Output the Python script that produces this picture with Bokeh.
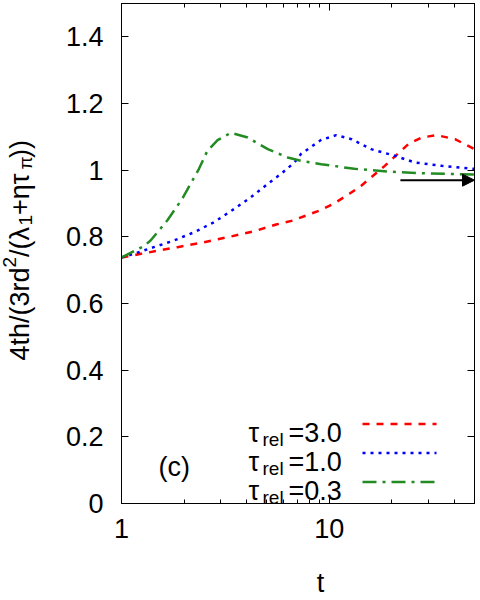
from bokeh.plotting import figure
from bokeh.layouts import row, column
from bokeh.models import (FixedTicker, CustomJSTickFormatter, LogAxis, LinearAxis,
                          Label, Arrow, NormalHead, Range1d)
from bokeh.core.properties import value
from bokeh.embed import file_html
from bokeh.resources import INLINE

# ---- data: ratio of 4th to 3rd-order cumulant combination vs time ----
t_tau30 = [1.0, 1.24, 1.86, 2.50, 3.36, 4.36, 5.55, 6.68, 7.74, 9.15, 10.6, 12.5, 14.3,
           16.3, 18.5, 21.1, 24.0, 27.8, 32.9, 40.3, 50.0]
r_tau30 = [0.738, 0.749, 0.769, 0.784, 0.801, 0.817, 0.837, 0.849, 0.864, 0.881, 0.901,
           0.929, 0.954, 0.984, 1.013, 1.046, 1.078, 1.098, 1.105, 1.093, 1.063]

t_tau10 = [1.0, 1.147, 1.43, 1.79, 2.24, 2.79, 3.49, 4.20, 5.06, 5.86, 6.80, 7.32, 9.15,
           10.8, 12.8, 15.9, 20.7, 25.8, 34.8, 50.0]
r_tau10 = [0.738, 0.749, 0.769, 0.789, 0.814, 0.844, 0.884, 0.919, 0.959, 0.989, 1.023,
           1.049, 1.091, 1.105, 1.093, 1.063, 1.043, 1.023, 1.013, 1.004]

t_tau03 = [1.0, 1.28, 1.38, 1.66, 1.96, 2.36, 2.59, 2.90, 3.36, 4.05, 5.06, 6.31, 7.32,
           9.15, 13.2, 19.2, 30.0, 50.0]
r_tau03 = [0.738, 0.772, 0.789, 0.849, 0.914, 1.004, 1.058, 1.090, 1.112, 1.098, 1.063,
           1.038, 1.028, 1.018, 1.004, 0.996, 0.990, 0.987]

# asymptotic value marked by the arrow
arrow_t = [22.0, 50.0]
arrow_r = 0.97

legend_values = ["3.0", "1.0", "0.3"]
x_major = [1, 10]
x_minor = [2, 3, 4, 5, 6, 7, 8, 9, 20, 30, 40, 50]
y_major = [0, 0.2, 0.4, 0.6, 0.8, 1.0, 1.2, 1.4]

FONT = "Liberation Sans"
FS = 27          # main text size in px
FS_SUB = 19      # sub/superscript size in px

W_TOTAL, H_TOTAL = 480, 600
LW = 60          # width of the strip holding the rotated y label
BH = 40          # height of the strip holding the x label
FL, FB = 121, 503.5   # frame left / bottom in page pixels

# ---------------- main plot ----------------
p = figure(width=W_TOTAL - LW, height=H_TOTAL - BH, x_axis_type="log",
           x_range=(1, 50), y_range=(0, 1.5),
           output_backend="svg", toolbar_location=None, frame_align=False,
           min_border_left=FL - LW, min_border_right=6, min_border_top=3,
           min_border_bottom=int(H_TOTAL - BH - FB + 0.5))
p.grid.visible = False
p.outline_line_color = "black"
p.outline_line_width = 1
p.background_fill_color = "white"
p.border_fill_color = "white"

xt = FixedTicker(ticks=x_major, minor_ticks=x_minor)
yt = FixedTicker(ticks=y_major, minor_ticks=[])
fmt = CustomJSTickFormatter(code="return String(Math.round(tick * 10) / 10);")
blank = CustomJSTickFormatter(code="return '';")


def style_axis(ax, labels=True):
    ax.major_tick_in = 7
    ax.major_tick_out = 0
    ax.minor_tick_in = 4
    ax.minor_tick_out = 0
    ax.major_tick_line_color = "black"
    ax.minor_tick_line_color = "black"
    ax.axis_line_color = "black"
    ax.major_label_text_font = FONT
    ax.major_label_text_font_size = f"{FS}px"
    ax.major_label_text_color = "black"
    if not labels:
        ax.major_label_text_font_size = "0px"
        ax.major_label_standoff = 0


p.xaxis.ticker = xt
p.xaxis.formatter = fmt
p.yaxis.ticker = yt
p.yaxis.formatter = fmt
style_axis(p.xaxis[0])
style_axis(p.yaxis[0])
p.xaxis.major_label_standoff = 15
p.yaxis.major_label_standoff = 18

top = LogAxis(ticker=xt, formatter=blank)
right = LinearAxis(ticker=yt, formatter=blank)
style_axis(top, labels=False)
style_axis(right, labels=False)
p.add_layout(top, "above")
p.add_layout(right, "right")

RED = ("#ff0000", "7 7")
BLUE = ("#0000ff", "3 5")
GREEN = ("#228b22", "14 6 3 6")

# ---- curves ----
p.line(t_tau30, r_tau30, line_color=RED[0], line_width=2.5, line_dash=RED[1])
p.line(t_tau10, r_tau10, line_color=BLUE[0], line_width=2.5, line_dash=BLUE[1])
p.line(t_tau03, r_tau03, line_color=GREEN[0], line_width=2.5, line_dash=GREEN[1])

p.add_layout(Arrow(end=NormalHead(size=12, fill_color="black", line_color="black"),
                   x_start=arrow_t[0], y_start=arrow_r, x_end=arrow_t[1], y_end=arrow_r,
                   line_color="black", line_width=2))


def label(cx, cy, text, size, align="left"):
    """In-frame text placed by page pixel position (origin at top-left)."""
    p.add_layout(Label(x=cx - LW, y=cy, x_units="canvas", y_units="canvas", level="overlay",
                       text=text, text_font=FONT, text_font_size=f"{size}px",
                       text_color="black", text_align=align, text_baseline="alphabetic"))


# ---- legend: tau_rel = value with a line sample ----
row_base = [432, 461, 490]
for val, (col, dash), base in zip(legend_values, [RED, BLUE, GREEN], row_base):
    label(248, base, "\u03c4", FS)
    label(262, base + 7, "rel", FS_SUB)
    label(288, base, "=" + val, FS)
    ly = FB - (base - 8)
    p.add_layout(Arrow(end=None, x_start=362 - FL, y_start=ly, x_end=436 - FL, y_end=ly,
                       start_units="screen", end_units="screen",
                       line_color=col, line_width=2.5, line_dash=dash))

label(158, 466, "(c)", FS)


def text_strip(width, height):
    """A bare figure whose data units equal its pixels (y measured upward)."""
    f = figure(width=width, height=height, x_range=Range1d(0, width),
               y_range=Range1d(0, height), output_backend="svg", toolbar_location=None,
               x_axis_location=None, y_axis_location=None, frame_align=False,
               min_border=0, min_border_left=0, min_border_right=0,
               min_border_top=0, min_border_bottom=0)
    f.grid.visible = False
    f.outline_line_color = None
    f.background_fill_color = "white"
    f.border_fill_color = "white"
    return f


# ---- rotated y label: 4th/(3rd^2/(lambda_1 + eta tau_pi)), piece by piece ----
W = {'4': .556, 't': .278, 'h': .556, '/': .278, '(': .333, ')': .333, '3': .556,
     'r': .333, 'd': .556, '2': .556, '1': .556, '+': .584, '\u03bb': .55,
     '\u03b7': .6, '\u03c4': .5, '\u03c0': .6}
pieces = [("4th/(3rd", FS, 0), ("2", FS_SUB, -10), ("/(\u03bb", FS, 0), ("1", FS_SUB, 6),
          ("+\u03b7\u03c4", FS, 0), ("\u03c0", FS_SUB, 6), ("))", FS, 0)]
yl = text_strip(LW, H_TOTAL)
px, py, ptxt, psz = [], [], [], []
cy = 360
for txt, size, shift in pieces:
    px.append(19 + shift); py.append(H_TOTAL - cy); ptxt.append(txt); psz.append(f"{size}px")
    cy -= sum(W[c] for c in txt) * size
yl.text(x=px, y=py, text=ptxt, angle=1.5707963, text_font_size=psz,
        text_font=value(FONT), text_color="black", text_align="left",
        text_baseline="alphabetic")

# ---- x label ----
xl = text_strip(W_TOTAL - LW, BH)
xl.text(x=[320 - LW], y=[H_TOTAL - 582], text=["t"], text_font_size=f"{FS}px",
        text_font=value(FONT), text_color="black", text_align="center",
        text_baseline="alphabetic")

layout = row(yl, column(p, xl, spacing=0), spacing=0)
open("out.html", "w").write(file_html(layout, INLINE))
